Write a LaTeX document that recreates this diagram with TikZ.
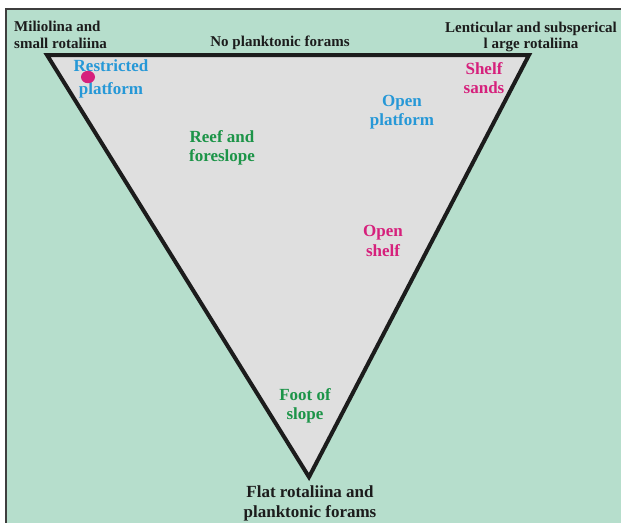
\documentclass[tikz,border=0pt]{standalone}
\usepackage{fontspec}
\setmainfont{Liberation Serif}
\usetikzlibrary{positioning}
\definecolor{mint}{RGB}{182,222,204}
\definecolor{shade}{RGB}{223,223,223}
\definecolor{sky}{RGB}{38,152,215}
\definecolor{leaf}{RGB}{28,148,72}
\definecolor{rose}{RGB}{214,32,124}
\definecolor{ink}{RGB}{28,28,28}
\tikzset{
  corner/.style={font=\bfseries\fontsize{15}{16.5}\selectfont,text=ink,align=#1,inner sep=0pt},
  corner/.default=center,
  zone/.style={font=\bfseries\fontsize{17}{19.5}\selectfont,text=#1,align=center,inner sep=0pt},
  zone/.default=leaf,
  edge/.style={draw=ink,line width=4pt,miter limit=20},
}

\begin{document}
\begin{tikzpicture}[x=1pt,y=-1pt]
  \useasboundingbox (0,0) rectangle (621,523);
  % background panel
  \fill[mint] (6,9) rectangle (621,523);
  \draw[ink!85,line width=1.8pt] (621,9) -- (6,9) -- (6,523);
  % ternary triangle
  \coordinate (tl) at (47,55);
  \coordinate (tr) at (529,55);
  \coordinate (bt) at (309,477);
  \filldraw[fill=shade,edge] (tl) -- (tr) -- (bt) -- cycle;
  % end members
  \node[corner=left,anchor=north west] (mil) at (14,21) {Miliolina and\\small rotaliina};
  \node[corner] (nop) at (280,43) {No planktonic forams};
  \node[corner] (len) at (531,37) {Lenticular and subsperical\\l arge rotaliina};
  \node[corner,font=\bfseries\fontsize{17}{20}\selectfont] (flat) at (310,503) {Flat rotaliina and\\planktonic forams};
  % facies
  \node[zone=sky] (rest) at (111,79) {Restricted\\[4pt]platform};
  \fill[rose] (88,77) ellipse (7 and 6.2);
  \node[zone=rose] (ssand) at (484,78) {Shelf\\sands};
  \node[zone=sky] (oplat) at (402,112) {Open\\platform};
  \node[zone] (reef) at (222,148) {Reef and\\foreslope};
  \node[zone=rose] (oshelf) at (383,241) {Open\\shelf};
  \node[zone] (foot) at (305,406) {Foot of\\slope};
\end{tikzpicture}
\end{document}
